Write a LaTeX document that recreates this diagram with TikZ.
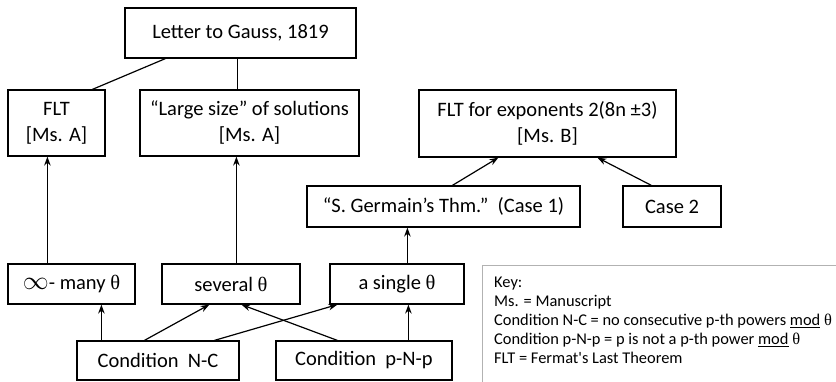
\documentclass[tikz,border=0pt]{standalone}
\usepackage{fontspec}
\setmainfont{Carlito}
\newfontfamily\grk{Liberation Serif}
\usetikzlibrary{arrows.meta}
\tikzset{
  box/.style={draw, line width=1.2pt, inner sep=0pt, align=center, font=\fontsize{20.5}{26}\selectfont},
  arr/.style={-{Stealth[length=9pt,width=6.5pt]}, line width=1.2pt},
  link/.style={line width=1.2pt}
}
\newcommand{\thet}{{\grk θ}}
\begin{document}
\begin{tikzpicture}[x=1pt,y=-1pt]
\useasboundingbox (0,0) rectangle (836,381);
\clip (0,0) rectangle (836,381);
\node[box, minimum width=231, minimum height=50] (gauss) at (240.5,33) {Letter to Gauss, 1819};
\node[box, minimum width=97, minimum height=66] (flta) at (56.5,123) {FLT\\{[Ms. A]}};
\node[box, minimum width=219, minimum height=66] (large) at (249.5,123) {“Large size” of solutions\\{[Ms. A]}};
\node[box, minimum width=257, minimum height=67] (fltb) at (547.5,123.5) {FLT for exponents 2(8n ±3)\\{[Ms. B]}};
\node[box, minimum width=273, minimum height=41] (germ) at (443.5,206.5) {“S. Germain’s Thm.”~~(Case 1)};
\node[box, minimum width=98, minimum height=41] (case2) at (672,206.5) {Case 2};
\node[box, minimum width=127, minimum height=40] (inf) at (71.5,284) {\scalebox{1.25}{$\infty$}- many \thet};
\node[box, minimum width=138, minimum height=40] (sev) at (231,284) {several \thet};
\node[box, minimum width=134, minimum height=40] (sing) at (397,284) {a single \thet};
\node[box, minimum width=162, minimum height=39] (nc) at (158,360.5) {Condition~~N-C};
\node[box, minimum width=176, minimum height=39] (pnp) at (364,360.5) {Condition~~p-N-p};
\node[draw=gray!60, line width=1.2pt, anchor=north west, minimum width=400, minimum height=140] (key) at (482,265) {};
\node[anchor=north west, align=left, inner sep=0pt, font=\fontsize{16.4}{19}\selectfont] (keytext) at (494,277)
 {Key:\\Ms. = Manuscript\\Condition N-C = no consecutive p-th powers \underline{mod} \thet\\Condition p-N-p = p is not a p-th power \underline{mod} \thet\\FLT = Fermat\textquotesingle s Last Theorem};
\draw[link] ([xshift=41]gauss.south west) -- ([xshift=85]flta.north west);
\draw[link] ([xshift=113]gauss.south west) -- ([xshift=98]large.north west);
\draw[arr] ([xshift=40]inf.north west) -- ([xshift=40]flta.south west);
\draw[arr] ([xshift=75]sev.north west) -- ([xshift=97]large.south west);
\draw[arr] ([xshift=78]sing.north west) -- ([xshift=101]germ.south west);
\draw[arr] ([xshift=146]germ.north west) -- ([xshift=80]fltb.south west);
\draw[arr] ([xshift=29]case2.north west) -- ([xshift=179]fltb.south west);
\draw[arr] ([xshift=25]nc.north west) -- ([xshift=94]inf.south west);
\draw[arr] ([xshift=68]nc.north west) -- ([xshift=48]sev.south west);
\draw[arr] ([xshift=138]nc.north west) -- ([xshift=8]sing.south west);
\draw[arr] ([xshift=62]pnp.north west) -- ([xshift=80]sev.south west);
\draw[arr] ([xshift=133]pnp.north west) -- ([xshift=79]sing.south west);
\end{tikzpicture}
\end{document}
